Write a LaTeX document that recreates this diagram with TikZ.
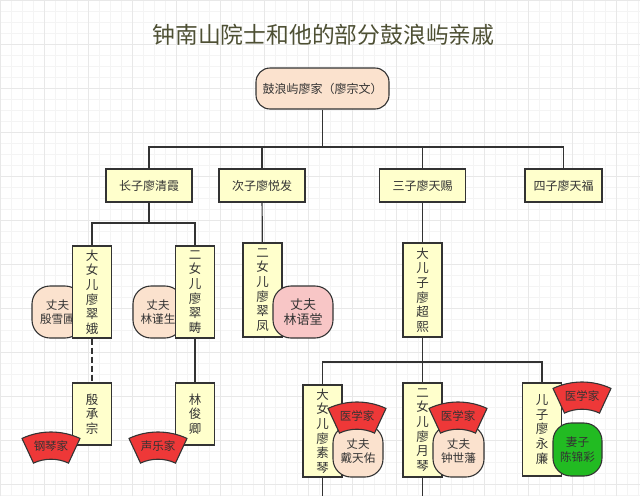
\documentclass[tikz,border=0pt]{standalone}
\usepackage{fontspec}
\setmainfont{Noto Sans CJK SC}
\usepackage{tikz}

\definecolor{boxyellow}{RGB}{255,255,204}
\definecolor{peach}{RGB}{251,226,206}
\definecolor{pinkish}{RGB}{248,198,198}
\definecolor{fanred}{RGB}{238,56,56}
\definecolor{wifegreen}{RGB}{34,187,34}
\definecolor{linegray}{RGB}{51,51,51}
\definecolor{titlegray}{RGB}{78,80,52}

% red fan badge: name, centre x, top y, text
\newcommand{\fanbadge}[4]{%
  \filldraw[fanline] (#2,#3+68.6) ++(-115:68.6) arc[start angle=-115, end angle=-65, radius=68.6]
    -- ++(115:27.2) arc[start angle=-65, end angle=-115, radius=41.4] -- cycle;
  \node[fantext] (#1) at (#2,#3+14) {#4};}

\begin{document}
\begin{tikzpicture}
  [x=1pt,y=-1pt,
   every node/.style={draw=linegray, line width=1.1pt, text=linegray, inner sep=0pt, align=center, font=\fontsize{12}{14.6}\selectfont},
   box/.style={fill=boxyellow, minimum width=86pt, minimum height=33pt},
   tallbox/.style={fill=boxyellow, minimum width=39pt, font=\fontsize{12.5}{14.6}\selectfont},
   spouse/.style={fill=peach, rounded corners=18pt, minimum width=51pt, minimum height=52pt, font=\fontsize{11.6}{14.4}\selectfont},
   fanline/.style={draw=linegray, line width=1.1pt, fill=fanred},
   fantext/.style={draw=none, font=\fontsize{11.5}{13}\selectfont},
   conn/.style={draw=linegray, line width=1.2pt}]
  \useasboundingbox (0,0) rectangle (640,496);
  \fill [white] (0,0) rectangle (640,496);
  \draw [gray!9, line width=0.4pt, step=11pt] (0,496) grid (640,0);
  \draw [gray!18, line width=0.4pt, step=44pt] (0,496) grid (640,0);

  \node [draw=none, text=titlegray, font=\fontsize{22.8}{26}\selectfont] (title) at (323.5,35) {钟南山院士和他的部分鼓浪屿亲戚};

  \node [fill=peach, rounded corners=14pt, minimum width=133pt, minimum height=41pt] (root) at (322.5,88.5) {鼓浪屿廖家（廖宗文）};

  \node [box] (zhang) at (149,185.5) {长子廖清霞};
  \node [box] (ci) at (262,185.5) {次子廖悦发};
  \node [box] (san) at (422.5,185.5) {三子廖天赐};
  \node [box, minimum width=77pt] (si) at (563.5,185.5) {四子廖天福};

  \node [spouse] (yinxp) at (57.5,312) {丈夫\\殷雪圃};
  \node [tallbox, minimum height=92pt] (cuie) at (92,292) {大\\女\\儿\\廖\\翠\\娥};
  \node [spouse, minimum width=50pt] (linjs) at (158,312) {丈夫\\林谨生};
  \node [tallbox, minimum height=92pt] (cuichou) at (195,292) {二\\女\\儿\\廖\\翠\\畴};
  \node [tallbox, minimum height=94pt] (cuifeng) at (262.5,290) {二\\女\\儿\\廖\\翠\\凤};
  \node [spouse, fill=pinkish, minimum width=60pt, font=\fontsize{13}{14.8}\selectfont] (linyt) at (303,312) {丈夫\\林语堂};
  \node [tallbox, minimum height=94pt] (chaoxi) at (422.5,290) {大\\儿\\子\\廖\\超\\熙};

  \node [tallbox, minimum height=62pt] (yincz) at (92,414) {殷\\承\\宗};
  \node [tallbox, minimum height=62pt] (linjq) at (195,414) {林\\俊\\卿};
  \fanbadge{gangqin}{51}{432}{钢琴家}
  \fanbadge{shengyue}{158}{432}{声乐家}

  \node [tallbox, minimum height=92pt] (suqin) at (322.5,431) {大\\女\\儿\\廖\\素\\琴};
  \node [spouse, minimum width=50pt] (daity) at (358,451) {丈夫\\戴天佑};
  \fanbadge{yixueA}{357}{402}{医学家}
  \node [tallbox, minimum height=94pt] (yueqin) at (422.5,430) {二\\女\\儿\\廖\\月\\琴};
  \node [spouse] (zhongsf) at (458.5,451) {丈夫\\钟世藩};
  \fanbadge{yixueB}{458}{402}{医学家}
  \node [tallbox, minimum height=93pt] (yonglian) at (542,429.5) {儿\\子\\廖\\永\\廉};
  \node [spouse, fill=wifegreen, minimum width=49pt, minimum height=53pt] (chenjc) at (577.5,449.5) {妻子\\陈锦彩};
  \fanbadge{yixueC}{582}{382}{医学家}

  \coordinate (bus1) at (322.5,147);
  \coordinate (bus2) at (149,223);
  \coordinate (bus3) at (422.5,362);
  \coordinate (cut1) at (322.5,496);
  \coordinate (cut2) at (422.5,496);

  \draw [conn] (root) -- (bus1) -| (zhang);
  \draw [conn] (bus1) -| (ci);
  \draw [conn] (bus1) -| (san);
  \draw [conn] (bus1) -| (si);
  \draw [conn] (zhang) -- (bus2) -| (cuie);
  \draw [conn] (bus2) -| (cuichou);
  \draw [conn] (chaoxi) -- (bus3) -| (suqin);
  \draw [conn] (bus3) -| (yonglian);

  \path [conn]
  (ci) edge (cuifeng)
  (san) edge (chaoxi)
  (cuie) edge [dash pattern=on 6pt off 3pt] (yincz)
  (cuichou) edge (linjq)
  (bus3) edge (yueqin)
  (suqin) edge (cut1)
  (yueqin) edge (cut2);

\end{tikzpicture}
\end{document}
